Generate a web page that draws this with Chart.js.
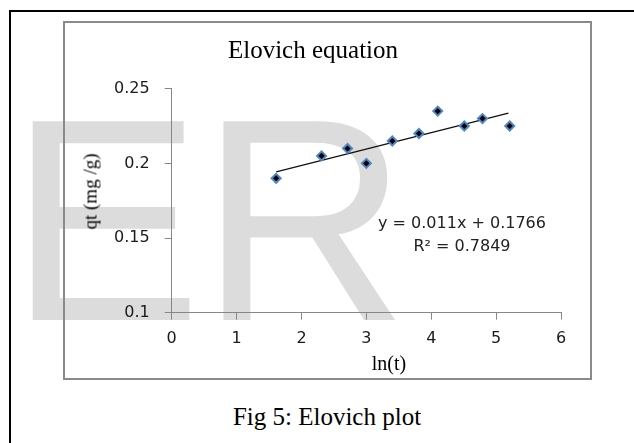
<!DOCTYPE html>
<html>
<head>
<meta charset="utf-8">
<script src="https://cdn.jsdelivr.net/npm/chart.js@4"></script>
<style>
  body { margin: 0; width: 634px; height: 443px; overflow: hidden; background: #fff; position: relative; }
  .outer { position: absolute; left: 9px; top: 10px; width: 700px; height: 500px; border: 2px solid #000; }
  .mark { position: absolute; left: 9px; top: 75px; font: 289px/1 "Liberation Sans", Arial, sans-serif; color: #dcdcdc; white-space: nowrap; letter-spacing: -2px; }
  .frame { position: absolute; left: 63px; top: 21px; width: 529px; height: 359px; box-sizing: border-box; border: 2px solid #8a8a8a; }
  #chart { position: absolute; left: 65px; top: 23px; }
  .serif { position: absolute; font-family: "Liberation Serif", "Times New Roman", serif; color: #000; white-space: nowrap; text-align: center; }
  .eq { position: absolute; left: 362px; top: 211px; width: 200px; text-align: center; font: 16px/23px "DejaVu Sans", sans-serif; color: #222; }
</style>
</head>
<body>
<div class="outer"></div>
<div class="mark">ER</div>
<div class="frame"></div>
<canvas id="chart" width="525" height="355"></canvas>
<div class="serif" style="left:15px; top:180px; width:150px; font-size:19px; line-height:23px; transform: rotate(-90deg);">qt (mg /g)</div>
<div class="serif" style="left:339px; top:351px; width:100px; font-size:20px; line-height:24px;">ln(t)</div>
<div class="eq">y = 0.011x + 0.1766<br>R² = 0.7849</div>
<div class="serif" style="left:177px; top:402px; width:300px; font-size:25px; line-height:30px;">Fig 5: Elovich plot</div>

<script>
// 자료값
const lnT = [1.61, 2.31, 2.71, 3.00, 3.40, 3.81, 4.10, 4.51, 4.79, 5.21];
const qt = [0.19, 0.205, 0.21, 0.20, 0.215, 0.22, 0.235, 0.225, 0.23, 0.225];
// 추세선 양 끝점
const trendX = [1.61, 5.19];
const trendY = [0.1943, 0.2337];
const xTicks = [0, 1, 2, 3, 4, 5, 6];
const yTicks = [0.1, 0.15, 0.2, 0.25];
const yTickLabels = ['0.1', '0.15', '0.2', '0.25'];

const points = lnT.map((x, i) => ({ x: x, y: qt[i] }));
const trend = trendX.map((x, i) => ({ x: x, y: trendY[i] }));

const axisColor = '#878787';
const tickFont = { family: '"DejaVu Sans", sans-serif', size: 16 };

new Chart(document.getElementById('chart'), {
  type: 'scatter',
  data: {
    datasets: [
      {
        label: 'trend',
        data: trend,
        showLine: true,
        borderColor: '#111',
        borderWidth: 1.3,
        pointRadius: 0,
        order: 2
      },
      {
        label: 'qt',
        data: points,
        pointStyle: 'rectRot',
        pointRadius: 4.5,
        backgroundColor: '#000',
        borderColor: '#4f86c6',
        borderWidth: 2,
        order: 1
      }
    ]
  },
  options: {
    responsive: false,
    animation: false,
    devicePixelRatio: 1,
    layout: { padding: { left: 0, right: 29, top: 0, bottom: 0 } },
    plugins: {
      legend: { display: false },
      tooltip: { enabled: false },
      title: {
        display: true,
        text: 'Elovich equation',
        color: '#000',
        font: { family: '"Liberation Serif", "Times New Roman", serif', size: 25, weight: 'normal' },
        padding: { top: 13, bottom: 22.7 }
      }
    },
    scales: {
      x: {
        type: 'linear',
        min: xTicks[0],
        max: xTicks[xTicks.length - 1],
        afterBuildTicks: s => { s.ticks = xTicks.map(v => ({ value: v })); },
        afterFit: s => { s.height = 65.3; },
        border: { color: axisColor, width: 1 },
        grid: { drawOnChartArea: false, tickLength: 7, color: axisColor },
        ticks: { color: '#1a1a1a', font: tickFont, padding: 10, maxRotation: 0 }
      },
      y: {
        type: 'linear',
        min: yTicks[0],
        max: yTicks[yTicks.length - 1],
        afterBuildTicks: s => { s.ticks = yTicks.map(v => ({ value: v })); },
        afterFit: s => { s.width = 106.7; },
        border: { color: axisColor, width: 1 },
        grid: { drawOnChartArea: false, tickLength: 7, color: axisColor },
        ticks: {
          color: '#1a1a1a',
          font: tickFont,
          padding: 15,
          callback: (v, i) => yTickLabels[i]
        }
      }
    }
  }
});
</script>
</body>
</html>
